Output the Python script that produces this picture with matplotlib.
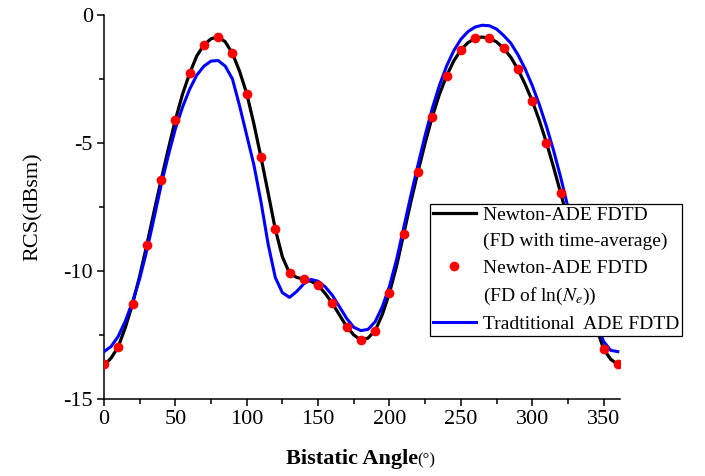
import numpy as np
import matplotlib
matplotlib.use('Agg')
import matplotlib.pyplot as plt
from matplotlib.lines import Line2D

plt.rcParams['font.family'] = ['Liberation Serif', 'DejaVu Serif']
plt.rcParams['mathtext.fontset'] = 'stix'
plt.rcParams['axes.unicode_minus'] = False

# Newton-ADE FDTD, FD with time-average (black line), every 5 degrees
angle_line = np.arange(0, 361, 5)
rcs_newton_avg = [-13.7, -13.4, -12.96, -12.2, -11.29, -10.2, -8.98, -7.7, -6.45, -5.25,
                  -4.1, -3.1, -2.28, -1.6, -1.17, -0.93, -0.85, -1.05, -1.5, -2.2,
                  -3.07, -4.25, -5.56, -6.95, -8.36, -9.45, -10.09, -10.25, -10.32, -10.4,
                  -10.56, -10.88, -11.26, -11.72, -12.17, -12.5, -12.7, -12.62, -12.33, -11.7,
                  -10.86, -9.8, -8.55, -7.3, -6.12, -5.0, -3.97, -3.1, -2.38, -1.8,
                  -1.37, -1.08, -0.91, -0.86, -0.91, -1.05, -1.3, -1.65, -2.12, -2.7,
                  -3.35, -4.12, -4.99, -5.95, -6.97, -8.0, -9.05, -10.1, -11.15, -12.2,
                  -13.05, -13.45, -13.65]

# Newton-ADE FDTD, FD of ln(Ne) (red dots), every 10 degrees
angle_dot = np.arange(0, 361, 10)
rcs_newton_ln = [-13.65, -12.96, -11.29, -8.98, -6.45, -4.10, -2.28, -1.17, -0.85, -1.5,
                 -3.07, -5.56, -8.36, -10.09, -10.32, -10.56, -11.26, -12.17, -12.7, -12.33,
                 -10.86, -8.55, -6.12, -3.97, -2.38, -1.37, -0.91, -0.91, -1.30, -2.12,
                 -3.35, -4.99, -6.97, -9.0, -11.1, -13.06, -13.63]

# Traditional ADE FDTD (blue line), every 5 degrees
rcs_traditional = [-13.15, -12.95, -12.55, -11.95, -11.2, -10.3, -9.2, -7.95, -6.65, -5.5,
                   -4.45, -3.6, -2.9, -2.35, -2.0, -1.8, -1.78, -2.0, -2.5, -3.55,
                   -4.7, -5.85, -7.3, -8.95, -10.25, -10.85, -11.03, -10.8, -10.5, -10.33,
                   -10.4, -10.62, -10.95, -11.4, -11.85, -12.2, -12.33, -12.28, -11.98, -11.4,
                   -10.6, -9.55, -8.3, -7.05, -5.85, -4.7, -3.65, -2.75, -2.0, -1.4,
                   -0.95, -0.65, -0.47, -0.4, -0.42, -0.55, -0.8, -1.1, -1.55, -2.1,
                   -2.75, -3.5, -4.35, -5.3, -6.35, -7.5, -8.7, -9.9, -11.05, -12.05,
                   -12.75, -13.1, -13.15]

fig = plt.figure(figsize=(7.05, 4.76), dpi=100)
ax = fig.add_axes([0.1475, 0.1618, 0.7319, 0.8067])

ax.plot(angle_line, rcs_newton_avg, color='black', lw=2.3, solid_joinstyle='round', zorder=2)
ax.plot(angle_line, rcs_traditional, color='#0000ff', lw=2.2, solid_joinstyle='round', zorder=3)
ax.plot(angle_dot, rcs_newton_ln, 'o', color='red', ms=7, mec='none', zorder=4)

ax.set_xlim(0, 361.5)
ax.set_ylim(-15, 0)
ax.set_xticks(np.arange(0, 351, 50))
ax.set_xticks(np.arange(25, 361, 50), minor=True)
ax.set_yticks([0, -5, -10, -15])
ax.set_yticks([-2.5, -7.5, -12.5], minor=True)
ax.spines['top'].set_visible(False)
ax.spines['right'].set_visible(False)
for s in ['left', 'bottom']:
    ax.spines[s].set_linewidth(1.1)
ax.tick_params(which='major', direction='out', length=5, width=1.1, labelsize=16, pad=3)
ax.tick_params(which='minor', direction='out', length=3.5, width=1.1)

ax.set_ylabel('RCS(dBsm)', fontsize=16, labelpad=15)
t = ax.text(0.48, -0.13, 'Bistatic Angle', transform=ax.transAxes, fontsize=16,
            fontweight='bold', ha='center', va='top')
ax.annotate('(°)', xy=(1, 0.02), xycoords=t, ha='left', va='bottom', fontsize=12)

blank = Line2D([], [], linestyle='none')
handles = [Line2D([], [], color='black', lw=2.3), blank,
           Line2D([], [], marker='o', color='red', ms=7, mec='none', linestyle='none'), blank,
           Line2D([], [], color='#0000ff', lw=2.2)]
labels = ['Newton-ADE FDTD', '(FD with time-average)', 'Newton-ADE FDTD',
          '(FD of ln($N_e$))', 'Tradtitional  ADE FDTD']
leg = ax.legend(handles, labels, loc='lower left', bbox_to_anchor=(0.632, 0.164),
                fontsize=14, frameon=True, fancybox=False, edgecolor='black',
                framealpha=1, handlelength=2.2, handletextpad=0.35, labelspacing=0.45,
                borderpad=0.15, borderaxespad=0)
leg.get_frame().set_linewidth(0.9)
leg.set_zorder(10)

fig.savefig('out.png', dpi=100)
